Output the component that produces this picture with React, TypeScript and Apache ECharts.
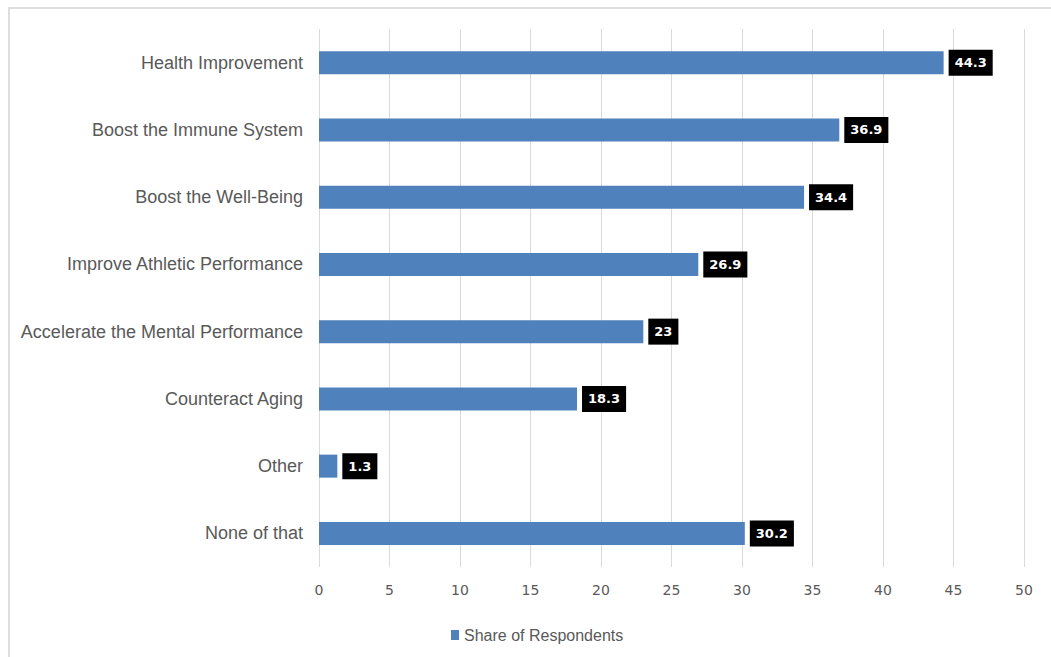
import React, { useEffect, useRef } from "react";
import * as echarts from "echarts";

const categories = [
  "Health Improvement",
  "Boost the Immune System",
  "Boost the Well-Being",
  "Improve Athletic Performance",
  "Accelerate the Mental Performance",
  "Counteract Aging",
  "Other",
  "None of that",
];
const shareValues = [44.3, 36.9, 34.4, 26.9, 23, 18.3, 1.3, 30.2];
const seriesName = "Share of Respondents";
const xMin = 0;
const xMax = 50;
const xInterval = 5;

export default function App() {
  const ref = useRef<HTMLDivElement>(null);
  useEffect(() => {
    if (!ref.current) return;
    const chart = echarts.init(ref.current, undefined, { renderer: "svg" });
    const textColor = "#595959";
    chart.setOption({
      animation: false,
      backgroundColor: "#ffffff",
      graphic: [
        {
          type: "rect",
          shape: { x: 9, y: 8, width: 1100, height: 700 },
          style: { fill: "none", stroke: "#dedede", lineWidth: 2 },
          silent: true,
        },
      ],
      grid: { left: 319, right: 27, top: 29, height: 538, containLabel: false },
      legend: {
        show: true,
        left: 446,
        top: 622,
        itemWidth: 8,
        itemHeight: 10,
        itemGap: 6,
        icon: "rect",
        textStyle: { color: textColor, fontSize: 16, fontFamily: "Liberation Sans, Arial, sans-serif" },
        data: [seriesName],
      },
      xAxis: {
        type: "value",
        min: xMin,
        max: xMax,
        interval: xInterval,
        axisLine: { show: false },
        axisTick: { show: false },
        splitLine: { show: true, lineStyle: { color: "#d9d9d9", width: 1 } },
        axisLabel: {
          color: textColor,
          fontSize: 14,
          margin: 16,
          fontFamily: "DejaVu Sans, sans-serif",
        },
      },
      yAxis: {
        type: "category",
        data: categories,
        inverse: true,
        axisLine: { show: false },
        axisTick: { show: false },
        axisLabel: {
          color: textColor,
          fontSize: 18,
          margin: 16,
          fontFamily: "Liberation Sans, Arial, sans-serif",
        },
      },
      series: [
        {
          name: seriesName,
          type: "bar",
          data: shareValues,
          barWidth: 23,
          itemStyle: { color: "#4f81bd" },
          label: {
            show: true,
            position: "right",
            distance: 5,
            color: "#ffffff",
            backgroundColor: "#000000",
            fontSize: 13,
            fontWeight: "bold",
            fontFamily: "DejaVu Sans, sans-serif",
            lineHeight: 15,
            padding: [6, 6, 5, 6],
          },
        },
      ],
    });
    return () => chart.dispose();
  }, []);
  return (
    <div
      ref={ref}
      style={{ position: "fixed", left: 0, top: 0, width: 1051, height: 657 }}
    />
  );
}
